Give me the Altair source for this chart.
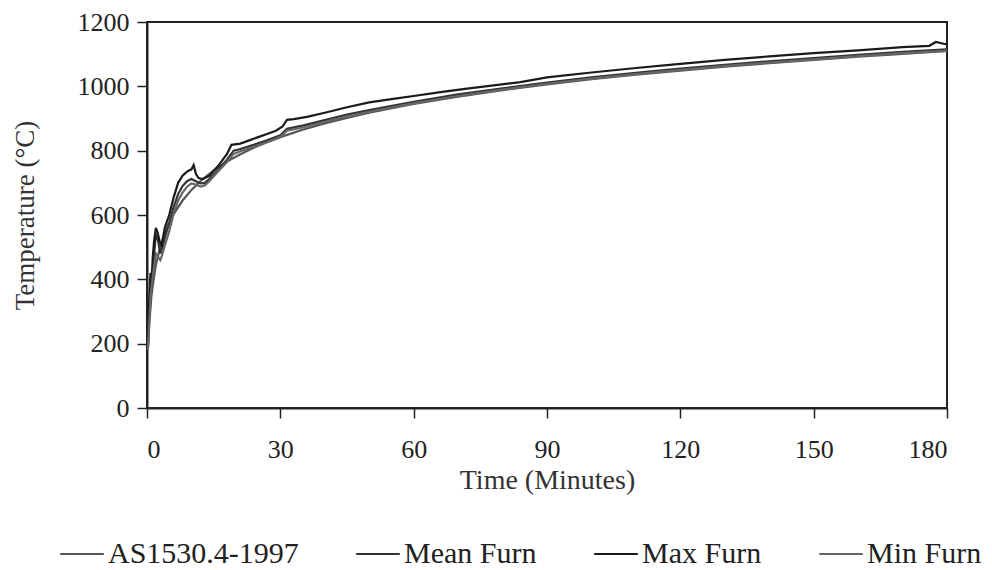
import altair as alt
import pandas as pd

# ---- data ----
series_order = ["AS1530.4-1997", "Mean Furn", "Max Furn", "Min Furn"]

as_t = [0.25, 0.5, 1, 1.5, 2, 3, 4, 5, 6, 8, 10, 12, 15, 18, 21, 24, 27, 30, 35, 40,
        45, 50, 60, 70, 80, 90, 100, 110, 120, 130, 140, 150, 160, 170, 180]
as_v = [190, 261, 349, 400, 445, 502, 544, 576, 603, 645, 678, 705, 739, 766, 789, 809,
        826, 842, 865, 885, 902, 918, 945, 968, 988, 1006, 1022, 1036, 1049, 1061, 1072,
        1082, 1092, 1101, 1110]

mean_t = [0.2, 0.5, 0.8, 1.2, 1.6, 2.0, 2.5, 3.0, 3.5, 4, 5, 6, 7, 8, 9, 10, 11, 12, 13,
          14, 16, 18, 19.5, 21, 24, 27, 30, 31.5, 35, 40, 45, 50, 60, 70, 80, 90, 100,
          110, 120, 130, 140, 150, 160, 170, 180]
mean_v = [200, 300, 400, 420, 480, 540, 520, 480, 500, 530, 575, 625, 665, 690, 705, 712,
          705, 698, 700, 712, 740, 772, 800, 805, 818, 832, 848, 868, 878, 895, 912, 926,
          952, 975, 994, 1012, 1028, 1042, 1055, 1067, 1078, 1088, 1098, 1107, 1115]

max_t = [0.2, 0.5, 0.8, 1.0, 1.3, 1.6, 2.0, 2.4, 2.8, 3.3, 4, 5, 6, 7, 8, 9, 10, 10.5,
         11, 11.6, 12.5, 14, 16, 18, 19, 21, 23, 25, 27, 29, 30.5, 31.5, 33, 36, 40, 45,
         50, 55, 60, 66, 72, 78, 84, 90, 100, 110, 120, 130, 140, 150, 160, 170, 176,
         177.5, 180]
max_v = [190, 330, 420, 380, 470, 520, 560, 545, 520, 505, 560, 600, 655, 700, 722, 735,
         742, 755, 728, 715, 712, 722, 752, 790, 818, 822, 832, 842, 852, 862, 875, 896,
         898, 905, 918, 935, 950, 960, 970, 982, 993, 1003, 1013, 1028, 1043, 1057, 1070,
         1082, 1093, 1103, 1112, 1122, 1126, 1138, 1130]

min_t = mean_t
min_v = [180, 260, 350, 400, 440, 480, 470, 460, 480, 505, 550, 605, 645, 670, 688, 698,
         695, 688, 692, 705, 735, 765, 790, 798, 812, 826, 843, 862, 872, 890, 906, 921,
         947, 970, 990, 1008, 1024, 1038, 1051, 1063, 1074, 1084, 1094, 1103, 1110]

x_ticks = [0, 30, 60, 90, 120, 150, 180]
y_ticks = [0, 200, 400, 600, 800, 1000, 1200]

rows = []
for name, ts, vs in [("AS1530.4-1997", as_t, as_v), ("Mean Furn", mean_t, mean_v),
                     ("Max Furn", max_t, max_v), ("Min Furn", min_t, min_v)]:
    for i, (t, v) in enumerate(zip(ts, vs)):
        rows.append({"series": name, "time": t, "temp": v, "order": i})
df = pd.DataFrame(rows)

FONT = "Liberation Serif"

chart = alt.Chart(df).mark_line(strokeWidth=2.2).encode(
    x=alt.X("time:Q",
            scale=alt.Scale(domain=[0, 180], nice=False, zero=False),
            axis=alt.Axis(values=x_ticks, title="Time (Minutes)", grid=False, format="d",
                          tickSize=10, labelPadding=18, titlePadding=4,
                          labelFontSize=26, titleFontSize=28)),
    y=alt.Y("temp:Q",
            scale=alt.Scale(domain=[0, 1200], nice=False),
            axis=alt.Axis(values=y_ticks, title="Temperature (°C)", grid=False, format="d",
                          tickSize=10, labelPadding=8, titlePadding=38,
                          labelFontSize=26, titleFontSize=27)),
    color=alt.Color("series:N",
                    scale=alt.Scale(domain=series_order,
                                    range=["#555555", "#333333", "#1a1a1a", "#666666"]),
                    legend=alt.Legend(title=None, orient="none", direction="horizontal",
                                      legendX=-88, legendY=509,
                                      symbolType="stroke", symbolSize=1900,
                                      symbolStrokeWidth=2, labelFontSize=30,
                                      labelFont=FONT, labelColor="#222222",
                                      labelLimit=0, columnPadding=53, labelOffset=3)),
    order="order:Q",
    detail="series:N",
).properties(
    width=800, height=386,
    background="white",
    autosize=alt.AutoSizeParams(type="none"),
    padding={"left": 139, "top": 14, "right": 36, "bottom": 160},
).configure_view(
    stroke="#222222", strokeWidth=2
).configure_axis(
    labelFont=FONT, titleFont=FONT, labelColor="#222222", titleColor="#333333",
    domainColor="#222222", tickColor="#222222", domainWidth=2, tickWidth=1.5,
    titleFontWeight="normal"
)

chart.save("out.html", embed_options={"renderer": "svg", "actions": False})
